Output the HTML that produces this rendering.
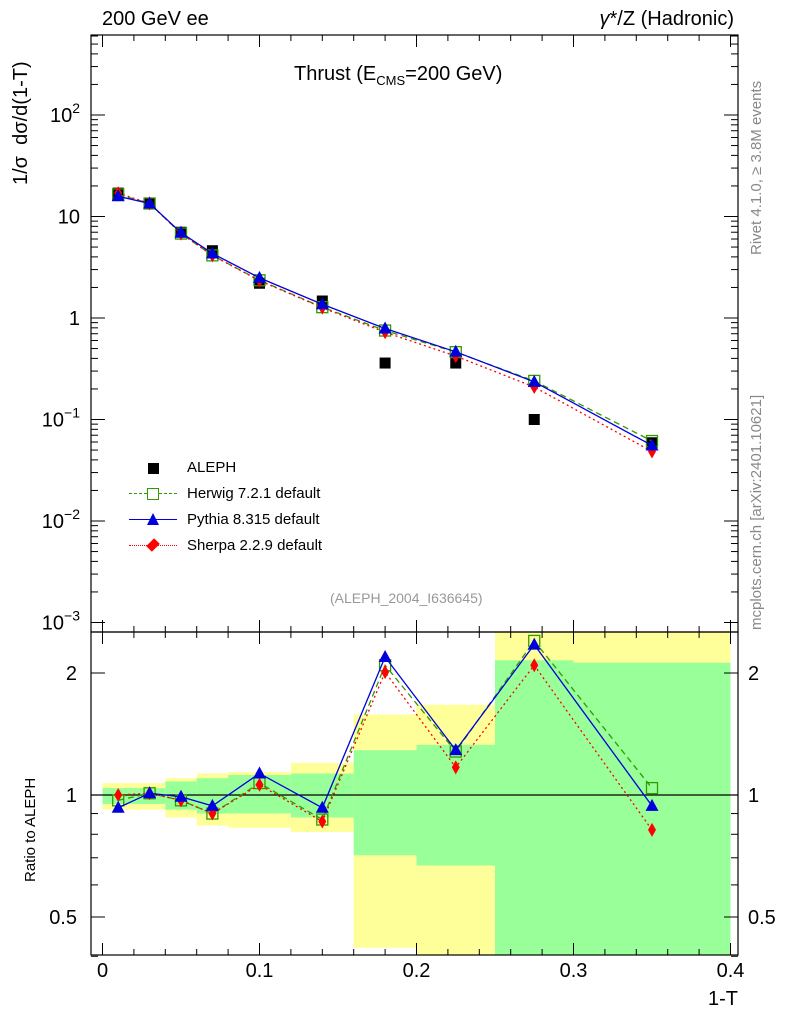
<!DOCTYPE html>
<html><head><meta charset="utf-8"><style>
body{margin:0;background:#fff;width:786px;height:1024px;overflow:hidden}
svg text{font-family:"Liberation Sans",sans-serif}
</style></head><body>
<svg id="c" width="786" height="1024"></svg>
<script>
const binLo=[0,0.02,0.04,0.06,0.08,0.12,0.16,0.2,0.25,0.3];
const binHi=[0.02,0.04,0.06,0.08,0.12,0.16,0.2,0.25,0.3,0.4];
const xVals=[0.01,0.03,0.05,0.07,0.1,0.14,0.18,0.225,0.275,0.35];
const aleph=[17,13.3,7.0,4.6,2.2,1.47,0.36,0.36,0.1,0.059];
const herwigR=[0.97,1.01,0.97,0.9,1.07,0.87,2.09,1.28,2.4,1.04];
const pythiaR=[0.93,1.01,0.99,0.94,1.13,0.93,2.19,1.29,2.35,0.94];
const sherpaR=[1.0,1.01,0.97,0.9,1.06,0.86,2.01,1.17,2.09,0.82];
const yelHi=[1.07,1.07,1.1,1.13,1.14,1.2,1.58,1.67,2.6,2.6];
const yelLo=[0.92,0.92,0.88,0.84,0.83,0.81,0.42,0.4,0.39,0.39];
const grnHi=[1.04,1.04,1.08,1.1,1.12,1.13,1.29,1.33,2.15,2.12];
const grnLo=[0.95,0.95,0.92,0.9,0.9,0.88,0.71,0.67,0.39,0.39];
const xTicks=[0,0.1,0.2,0.3,0.4];

const NS="http://www.w3.org/2000/svg",svg=document.getElementById('c');
function el(t,a,p){const e=document.createElementNS(NS,t);for(const k in a)e.setAttribute(k,a[k]);(p||svg).appendChild(e);return e;}
const L=91,R=738,T=35,MB=632,RB=955;
const X=v=>102.5+v*1570;
const Y=v=>318-Math.log10(v)*101.5;
const YR=r=>795-Math.log2(r)*122;
const clipR=el('clipPath',{id:'cr'});el('rect',{x:L,y:MB,width:R-L,height:RB-MB},clipR);
const clipM=el('clipPath',{id:'cm'});el('rect',{x:L,y:T,width:R-L,height:MB-T},clipM);
const gR=el('g',{'clip-path':'url(#cr)'});
for(let i=0;i<binLo.length;i++){
 const y=el('rect',{x:X(binLo[i]),y:YR(yelHi[i]),width:X(binHi[i])-X(binLo[i]),height:YR(yelLo[i])-YR(yelHi[i]),fill:'#ffff99'},gR);
 
 
 const g=el('rect',{x:X(binLo[i]),y:YR(grnHi[i]),width:X(binHi[i])-X(binLo[i]),height:YR(grnLo[i])-YR(grnHi[i]),fill:'#99ff99'},gR);
 
 
}
el('line',{x1:L,x2:R,y1:YR(1),y2:YR(1),stroke:'#000','stroke-width':1.2},gR);
el('rect',{x:L,y:T,width:R-L,height:MB-T,fill:'none',stroke:'#000','stroke-width':1.2});
el('rect',{x:L,y:MB,width:R-L,height:RB-MB,fill:'none',stroke:'#000','stroke-width':1.2});
for(const t of xTicks){
 for(const [y0,y1] of [[MB,MB-12],[T,T+12],[RB,RB-12],[MB,MB+12]]) el('line',{x1:X(t),x2:X(t),y1:y0,y2:y1,stroke:'#000'});
 const tx=el('text',{x:X(t),y:977,'font-size':20,'text-anchor':'middle'});tx.textContent=t;
 
 
}
for(let t=0.02;t<0.4;t+=0.02){if(Math.abs(t*10-Math.round(t*10))<1e-6)continue;
 for(const [y0,y1] of [[MB,MB-6],[T,T+6],[RB,RB-6],[MB,MB+6]]) el('line',{x1:X(t),x2:X(t),y1:y0,y2:y1,stroke:'#000'});}
for(let e=-3;e<=2;e++){
 const y=Y(Math.pow(10,e));
 el('line',{x1:L,x2:L+14,y1:y,y2:y,stroke:'#000'});el('line',{x1:R,x2:R-14,y1:y,y2:y,stroke:'#000'});
 const tx=el('text',{x:80,y:y+7,'font-size':20,'text-anchor':'end'});
 const base=el('tspan',{},tx);base.textContent=(e==0?'1':'10');
 if(e<0||e==2){const s=el('tspan',{dy:-9,'font-size':14},tx);s.textContent=(e==2?'2':'−'+(-e));}
 
 
 for(let m=2;m<=9;m++){const v=m*Math.pow(10,e);const yy=Y(v);if(yy<T)continue;
  el('line',{x1:L,x2:L+7,y1:yy,y2:yy,stroke:'#000'});el('line',{x1:R,x2:R-7,y1:yy,y2:yy,stroke:'#000'});}
}
for(const r of [0.5,1,2]){const y=YR(r);
 el('line',{x1:L,x2:L+14,y1:y,y2:y,stroke:'#000'});el('line',{x1:R,x2:R-14,y1:y,y2:y,stroke:'#000'});
 for(const [x,a] of [[77,'end'],[748,'start']]){const t=el('text',{x:x,y:y+7,'font-size':20,'text-anchor':a});t.textContent=r;}}
for(const r of [0.4,0.6,0.7,0.8,0.9]){const y=YR(r);el('line',{x1:L,x2:L+7,y1:y,y2:y,stroke:'#000'});el('line',{x1:R,x2:R-7,y1:y,y2:y,stroke:'#000'});}
const gM=el('g',{'clip-path':'url(#cm)'});
function marker(p,type,x,y,c,name){let m;
 if(type=='sq')m=el('rect',{x:x-5.5,y:y-5.5,width:11,height:11,fill:'none',stroke:c,'stroke-width':1.3},p);
 else if(type=='tri')m=el('path',{d:`M${x},${y-7}L${x+6.5},${y+5}L${x-6.5},${y+5}Z`,fill:c},p);
 else if(type=='dia')m=el('path',{d:`M${x},${y-7}L${x+4},${y}L${x},${y+7}L${x-4},${y}Z`,fill:c},p);
 else m=el('rect',{x:x-5.5,y:y-5.5,width:11,height:11,fill:c},p);
 
 }
for(let i=0;i<xVals.length;i++)marker(gM,'box',X(xVals[i]),Y(aleph[i]),'#000','aleph-point');
const series=[[herwigR,'#339900','sq','6,4','herwig'],[sherpaR,'#ff0000','dia','2,3','sherpa'],[pythiaR,'#0000dd','tri','','pythia']];
for(const [rr,c,ty,da,nm] of series){
 const pm=xVals.map((x,i)=>X(x)+','+Y(rr[i]*aleph[i])).join(' ');
 const pr=xVals.map((x,i)=>X(x)+','+YR(rr[i])).join(' ');
 el('polyline',{points:pm,fill:'none',stroke:c,'stroke-width':1.3,'stroke-dasharray':da},gM);
 el('polyline',{points:pr,fill:'none',stroke:c,'stroke-width':1.3,'stroke-dasharray':da},gR);
 for(let i=0;i<xVals.length;i++){marker(gM,ty,X(xVals[i]),Y(rr[i]*aleph[i]),c,nm+'-point');marker(gR,ty,X(xVals[i]),YR(rr[i]),c,nm+'-ratio-point');}
}
</script>
<div style="position:absolute;left:0;top:0;width:786px;height:1024px;font-family:'Liberation Sans',sans-serif;pointer-events:none">
<div style="position:absolute;left:102px;top:8px;font-size:20px">200 GeV ee</div>
<div style="position:absolute;right:52px;top:8px;font-size:20px"><i>γ</i>*/Z (Hadronic)</div>
<div style="position:absolute;left:294px;top:63px;font-size:20px">Thrust (E<sub style="font-size:13px">CMS</sub>=200 GeV)</div>
<div style="position:absolute;left:10px;top:185px;font-size:20px;transform:rotate(-90deg);transform-origin:0 0;white-space:nowrap">1/σ &nbsp;dσ/d(1-T)</div>
<div style="position:absolute;left:22px;top:882px;font-size:15px;transform:rotate(-90deg);transform-origin:0 0;white-space:nowrap">Ratio to ALEPH</div>
<div style="position:absolute;right:48px;top:988px;font-size:20px">1-T</div>
<div style="position:absolute;left:330px;top:590px;font-size:14px;color:#999">(ALEPH_2004_I636645)</div>
<div style="position:absolute;left:748px;top:255px;font-size:15px;color:#888;transform:rotate(-90deg);transform-origin:0 0;white-space:nowrap">Rivet 4.1.0, ≥ 3.8M events</div>
<div style="position:absolute;left:748px;top:630px;font-size:15px;color:#888;transform:rotate(-90deg);transform-origin:0 0;white-space:nowrap">mcplots.cern.ch [arXiv:2401.10621]</div>
<div style="position:absolute;left:125px;top:455px;font-size:15px;line-height:26px">
<div style="padding-left:62px;position:relative"><span style="position:absolute;left:23px;top:8px;width:11px;height:11px;background:#000"></span>ALEPH</div>
<div style="padding-left:62px;position:relative"><span style="position:absolute;left:4px;top:12px;width:48px;border-top:1.3px dashed #339900"></span><span style="position:absolute;left:22px;top:7px;width:10px;height:10px;border:1.3px solid #339900;background:#fff"></span>Herwig 7.2.1 default</div>
<div style="padding-left:62px;position:relative"><span style="position:absolute;left:4px;top:12px;width:48px;border-top:1.3px solid #0000dd"></span><span style="position:absolute;left:22px;top:6px;width:0;height:0;border-left:6.5px solid transparent;border-right:6.5px solid transparent;border-bottom:12px solid #0000dd"></span>Pythia 8.315 default</div>
<div style="padding-left:62px;position:relative"><span style="position:absolute;left:4px;top:12px;width:48px;border-top:1.3px dotted #ff0000"></span><span style="position:absolute;left:24px;top:8px;width:8px;height:8px;background:#ff0000;transform:rotate(45deg) scaleY(1.4)"></span>Sherpa 2.2.9 default</div>
</div>
</div>
</body></html>
